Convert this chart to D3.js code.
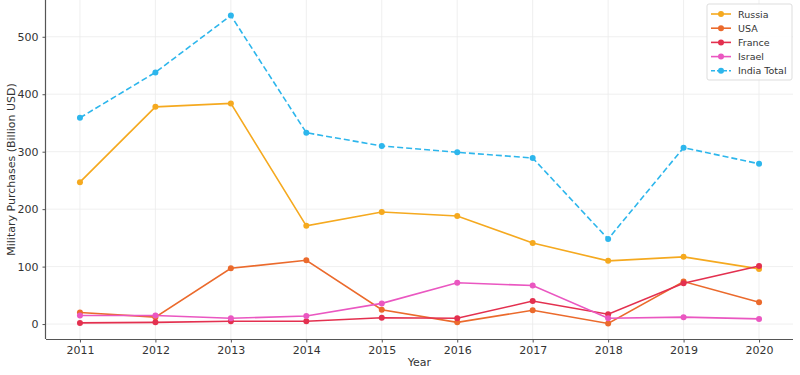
<!DOCTYPE html>
<html lang="en">
<head>
<meta charset="utf-8">
<title>Military Purchases</title>
<script src="https://d3js.org/d3.v7.min.js"></script>
<style>
  body { margin: 0; background: #fff; }
  svg text { font-family: "DejaVu Sans", sans-serif; fill: #333; }
  .grid line { stroke: #ebebeb; stroke-width: 0.8px; }
  .axis path, .axis line { stroke: #555; }
  .line { fill: none; stroke-width: 1.6px; }
</style>
</head>
<body>
<svg width="800" height="375"></svg>
<script>
// data
var years = [2011, 2012, 2013, 2014, 2015, 2016, 2017, 2018, 2019, 2020];
var russia = [247, 378, 384, 171, 195, 188, 141, 110, 117, 96];
var usa = [20, 12, 97, 111, 25, 3, 24, 1, 74, 38];
var france = [2, 3, 5, 5, 11, 10, 40, 17, 71, 101];
var israel = [15, 15, 10, 14, 36, 72, 67, 10, 12, 9];
var indiaTotal = [359, 438, 537, 333, 310, 299, 289, 148, 307, 279];
var yTicks = [0, 100, 200, 300, 400, 500];

var series = [
  {name: "Russia", values: russia, color: "#f5a91f", dash: null},
  {name: "USA", values: usa, color: "#eb6a2c", dash: null},
  {name: "France", values: france, color: "#e3304f", dash: null},
  {name: "Israel", values: israel, color: "#ea57c1", dash: null},
  {name: "India Total", values: indiaTotal, color: "#2db6ec", dash: "6,3"}
];

var svg = d3.select("svg");
var mLeft = 46, mRight = 793, mTop = 0, mBottom = 339;

var x = d3.scaleLinear().domain([2011 - 0.45, 2020 + 0.45]).range([mLeft, mRight]);
var y = d3.scaleLinear().domain([-26, 564]).range([mBottom, mTop]);

// grid
var grid = svg.append("g").attr("class", "grid");
grid.selectAll(".gx").data(years).enter().append("line")
  .attr("x1", d => x(d)).attr("x2", d => x(d))
  .attr("y1", mTop).attr("y2", mBottom);
grid.selectAll(".gy").data(yTicks).enter().append("line")
  .attr("x1", mLeft).attr("x2", mRight)
  .attr("y1", d => y(d)).attr("y2", d => y(d));

// axes
var xAxis = svg.append("g").attr("class", "axis")
  .attr("transform", "translate(0," + mBottom + ")")
  .call(d3.axisBottom(x).tickValues(years).tickFormat(d3.format("d")).tickSize(3.5).tickPadding(4));
var yAxis = svg.append("g").attr("class", "axis")
  .attr("transform", "translate(" + mLeft + ",0)")
  .call(d3.axisLeft(y).tickValues(yTicks).tickSize(3.5).tickPadding(4));
xAxis.select(".domain").attr("d", "M" + mLeft + ",0.5H" + mRight).attr("stroke-width", 1.2);
yAxis.select(".domain").attr("d", "M-0.5," + mTop + "V" + mBottom).attr("stroke-width", 1.2);
svg.selectAll(".axis text").style("font-size", "11px").attr("fill", "#333");

svg.append("text").attr("x", (mLeft + mRight) / 2).attr("y", 366)
  .attr("text-anchor", "middle").style("font-size", "11px").text("Year");
svg.append("text").attr("transform", "translate(15," + (mBottom / 2) + ") rotate(-90)")
  .attr("text-anchor", "middle").style("font-size", "11px").text("Military Purchases (Billion USD)");

// lines
var line = d3.line().x((d, i) => x(years[i])).y(d => y(d));
series.forEach(function(s) {
  var g = svg.append("g");
  g.append("path").datum(s.values).attr("class", "line")
    .attr("stroke", s.color).attr("stroke-dasharray", s.dash).attr("d", line);
  g.selectAll("circle").data(s.values).enter().append("circle")
    .attr("cx", (d, i) => x(years[i])).attr("cy", d => y(d))
    .attr("r", 3).attr("fill", s.color);
});

// legend
var lg = svg.append("g").attr("transform", "translate(707,4)");
lg.append("rect").attr("width", 85).attr("height", 76).attr("rx", 2)
  .attr("fill", "#fff").attr("fill-opacity", 0.85).attr("stroke", "#ddd");
series.forEach(function(s, i) {
  var cy = 10 + i * 14.2;
  lg.append("line").attr("x1", 4).attr("x2", 24).attr("y1", cy).attr("y2", cy)
    .attr("stroke", s.color).attr("stroke-width", 1.6).attr("stroke-dasharray", s.dash ? "4,2" : null);
  lg.append("circle").attr("cx", 14).attr("cy", cy).attr("r", 3).attr("fill", s.color);
  lg.append("text").attr("x", 31).attr("y", cy + 3.5).style("font-size", "9.5px").text(s.name);
});
</script>
</body>
</html>
